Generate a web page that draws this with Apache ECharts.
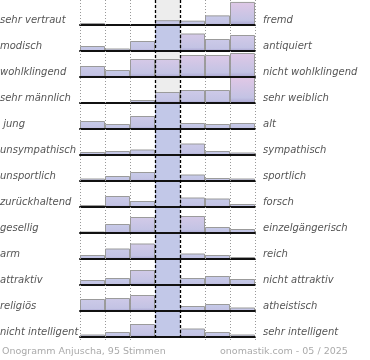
<!DOCTYPE html>
<html><head><meta charset="utf-8">
<script src="https://cdn.jsdelivr.net/npm/echarts@6/dist/echarts.min.js"></script>
<style>html,body{margin:0;padding:0;background:#fff}#c{width:370px;height:360px}</style>
</head><body><div id="c"></div>
<script>
// ---- data ----
const leftLabels = ['sehr vertraut','modisch','wohlklingend','sehr männlich',' jung','unsympathisch','unsportlich','zurückhaltend','gesellig','arm','attraktiv','religiös','nicht intelligent'];
const rightLabels = ['fremd','antiquiert','nicht wohlklingend','sehr weiblich','alt','sympathisch','sportlich','forsch','einzelgängerisch','reich','nicht attraktiv','atheistisch','sehr intelligent'];
const positions = ['1','2','3','4','5','6','7'];
// bar heights per row (scale 0..26; values above 26 run past the row and are cut off)
const vertraut     = [2, 0, 0, 5, 4.5, 10, 24];
const modisch      = [5, 2.5, 10, 40, 17.5, 12, 16];
const wohlklingend = [11, 7, 18, 18, 22, 22, 24];
const maennlich    = [0, 0, 3, 11, 13, 13, 26];
const jung         = [8, 5, 13, 40, 6, 5, 6];
const sympathisch  = [3, 4, 5.5, 40, 11.5, 4, 2.5];
const sportlich    = [2.5, 5, 9, 40, 6.5, 3, 2.5];
const forsch       = [2, 11, 6, 40, 9.5, 8.5, 3];
const gesellig     = [1.5, 9, 16, 40, 17, 6, 4];
const reich        = [4, 10.5, 15.5, 40, 5.5, 4, 2];
const attraktiv    = [5, 7, 15, 40, 7, 9, 6];
const religioes    = [12, 13, 16, 40, 5, 7, 3.5];
const intelligent  = [2.5, 5, 13, 40, 8.5, 5, 2.5];
const rows = [vertraut, modisch, wohlklingend, maennlich, jung, sympathisch, sportlich, forsch, gesellig, reich, attraktiv, religioes, intelligent];
const footerLeft = 'Onogramm Anjuscha, 95 Stimmen';
const footerRight = 'onomastik.com - 05 / 2025';

// ---- layout ----
const ROW_MAX = 26, plotLeft = 80, plotW = 175, rowH = 26, firstBase = 25;
const colW = plotW / positions.length;

function hex(c){return [parseInt(c.substr(1,2),16),parseInt(c.substr(3,2),16),parseInt(c.substr(5,2),16)];}
function mix(a,b,t){const A=hex(a),B=hex(b);return 'rgb('+A.map((x,i)=>Math.round(x+(B[i]-x)*t)).join(',')+')';}

function itemFor(v){
  if (v > ROW_MAX) {
    return {value:v, itemStyle:{color:'#c2c8e8', borderWidth:0}};
  }
  const t = Math.min(1, v / ROW_MAX);
  const top = mix('#c6cbe9', '#e2c8e6', Math.max(0,(t-0.3)/0.7));
  return {value:v, itemStyle:{
    color:{type:'linear',x:0,y:0,x2:0,y2:1,colorStops:[
      {offset:0,color:top},{offset:0.8,color:'#c3c3e4'},{offset:1,color:'#aaa6d2'}]},
    borderColor:'#9b9b9b', borderWidth:1}};
}

const grid=[], xAxis=[], yAxis=[], series=[], graphic=[];
// center column background
graphic.push({type:'rect', z:0, shape:{x:plotLeft+3*colW, y:0, width:colW, height:firstBase+rowH*(rows.length-1)}, style:{fill:'#ededed'}});
const labelFont = 'italic 10px "DejaVu Sans"';
rows.forEach((vals,i)=>{
  const base = firstBase + rowH*i;
  grid.push({left:plotLeft, width:plotW, top:base-rowH, height:rowH});
  xAxis.push({type:'category', gridIndex:i, data:positions, z:10,
    axisLine:{show:true, lineStyle:{color:'#111', width:2}}, axisTick:{show:false}, axisLabel:{show:false}, splitLine:{show:false}});
  yAxis.push({type:'value', gridIndex:i, min:0, max:ROW_MAX, show:false, splitLine:{show:false}});
  series.push({type:'bar', xAxisIndex:i, yAxisIndex:i, barCategoryGap:'0%', clip:true, z:3,
    data: vals.map(itemFor), silent:true, animation:false});
  graphic.push({type:'text', z:50, left:0, top:base-10, style:{text:leftLabels[i], font:labelFont, fill:'#555', textVerticalAlign:'middle'}});
  graphic.push({type:'text', z:50, left:263, top:base-10, style:{text:rightLabels[i], font:labelFont, fill:'#555', textVerticalAlign:'middle'}});
});
const lineBottom = firstBase + rowH*(rows.length-1) + 3;
for (let k=0;k<=positions.length;k++){
  const x = plotLeft + k*colW;
  const dashed = (k===3||k===4);
  graphic.push({type:'line', z:100, shape:{x1:x+0.5,y1:0,x2:x+0.5,y2:lineBottom},
    style:{stroke: dashed?'#000':'#999', lineWidth: dashed?1.3:1, lineDash: dashed?[3,2]:[1,2]}});
}
graphic.push({type:'text', z:50, left:2, top:347, style:{text:footerLeft, font:'9.5px "DejaVu Sans"', fill:'#aaa'}});
graphic.push({type:'text', z:50, left:220, top:347, style:{text:footerRight, font:'9.5px "DejaVu Sans"', fill:'#aaa'}});

const chart = echarts.init(document.getElementById('c'), null, {renderer:'canvas'});
chart.setOption({animation:false, backgroundColor:'#fff', grid, xAxis, yAxis, series, graphic});
</script></body></html>
